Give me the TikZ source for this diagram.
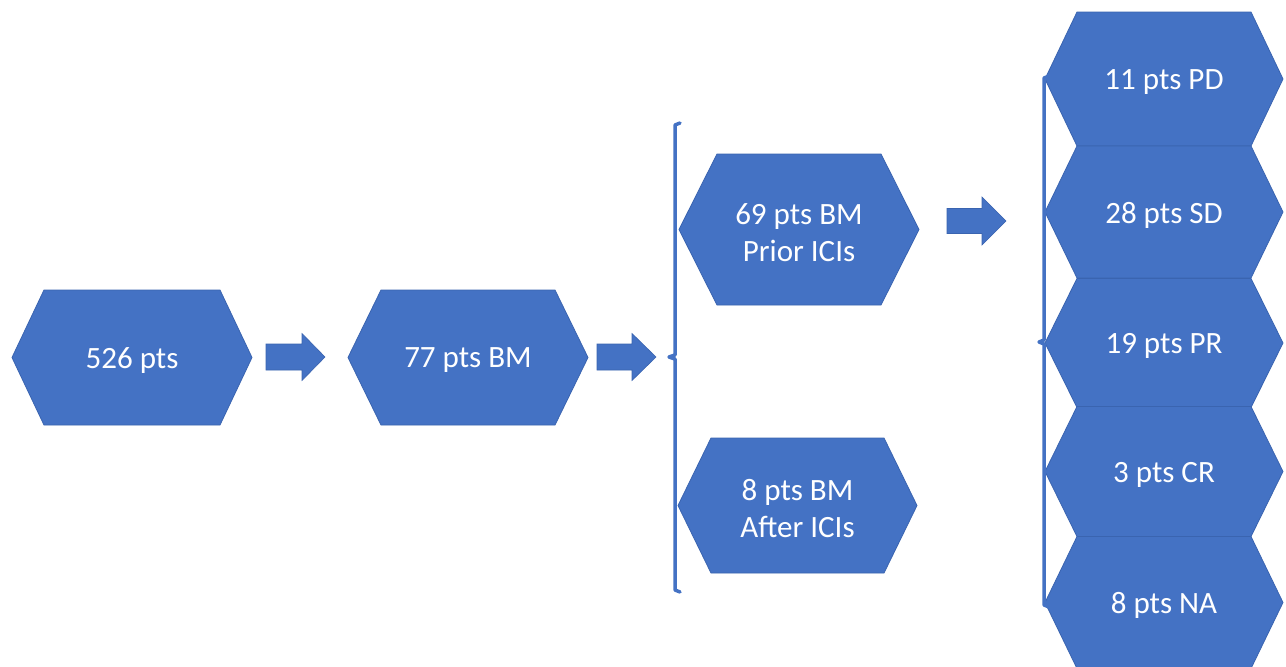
\documentclass[tikz,border=0pt]{standalone}
\usepackage{fontspec}
\setmainfont{Carlito}
\definecolor{hexfill}{HTML}{4472C4}
\definecolor{hexborder}{HTML}{3A64B0}
\newcommand{\myhex}[7]{%
  \draw[hexstyle] (#2-#4,#3) -- (#2-#4+#6,#3-#5) -- (#2+#4-#6,#3-#5) -- (#2+#4,#3) -- (#2+#4-#6,#3+#5) -- (#2-#4+#6,#3+#5) -- cycle;
  \node[hextext] (#1) at (#2,#3) {#7};}
\newcommand{\myarrow}[7]{% name, x0, x1 (head start), x2 (tip), yc, shaft half, head half
  \draw[arrowstyle] (#2,#5-#6) -- (#3,#5-#6) -- (#3,#5-#7) -- (#4,#5) -- (#3,#5+#7) -- (#3,#5+#6) -- (#2,#5+#6) -- cycle;
  \coordinate (#1) at (#4,#5);}
\tikzset{
  hexstyle/.style={fill=hexfill, draw=hexborder, line width=0.8pt, line join=miter},
  hextext/.style={text=white, align=center, inner sep=0pt, yshift=-3pt, font=\fontsize{31}{37}\selectfont},
  arrowstyle/.style={fill=hexfill, draw=hexborder, line width=0.6pt},
  bracketstyle/.style={draw=hexfill, line width=3.5pt, line cap=round, line join=round}
}
\begin{document}
\begin{tikzpicture}[x=1pt,y=-1pt]
\useasboundingbox (0,0) rectangle (1286,667);
\fill[white] (0,0) rectangle (1286,667);
% first two hexagons
\myhex{h1}{132}{357.5}{120}{67.5}{32}{526 pts}
\myhex{h2}{468}{357.5}{120}{67.5}{33}{77 pts BM}
% arrows
\myarrow{a1}{266}{302}{325}{357}{13}{23.5}
\myarrow{a2}{597}{632}{656}{357}{13}{23.5}
\myarrow{a3}{947}{982}{1006}{221}{12.5}{24}
% left bracket
\coordinate (b1top) at (680,123);
\coordinate (b1mid) at (669,357);
\coordinate (b1bot) at (680,592);
\draw[bracketstyle] (b1top) -- (675,125) -- (675,355) -- (b1mid) -- (675,359) -- (675,590) -- (b1bot);
% middle hexagons
\myhex{h3}{799}{229.5}{120}{75.5}{38}{69 pts BM\\Prior ICIs}
\myhex{h4}{797.5}{505.5}{119.5}{67.5}{33}{8 pts BM\\After ICIs}
% right column
\myhex{r1}{1164}{79}{119}{67}{32}{11 pts PD}
\myhex{r2}{1164}{212}{119}{66}{32}{28 pts SD}
\myhex{r3}{1164}{343}{119}{64.5}{32}{19 pts PR}
\myhex{r4}{1164}{471.5}{119}{65}{32}{3 pts CR}
\myhex{r5}{1164}{602.5}{119}{66}{32}{8 pts NA}
% right bracket
\coordinate (b2top) at (1049,76);
\coordinate (b2mid) at (1039,342);
\coordinate (b2bot) at (1049,607);
\draw[bracketstyle] (b2top) -- (1044,78) -- (1044,340) -- (b2mid) -- (1044,344) -- (1044,605) -- (b2bot);
\end{tikzpicture}
\end{document}
